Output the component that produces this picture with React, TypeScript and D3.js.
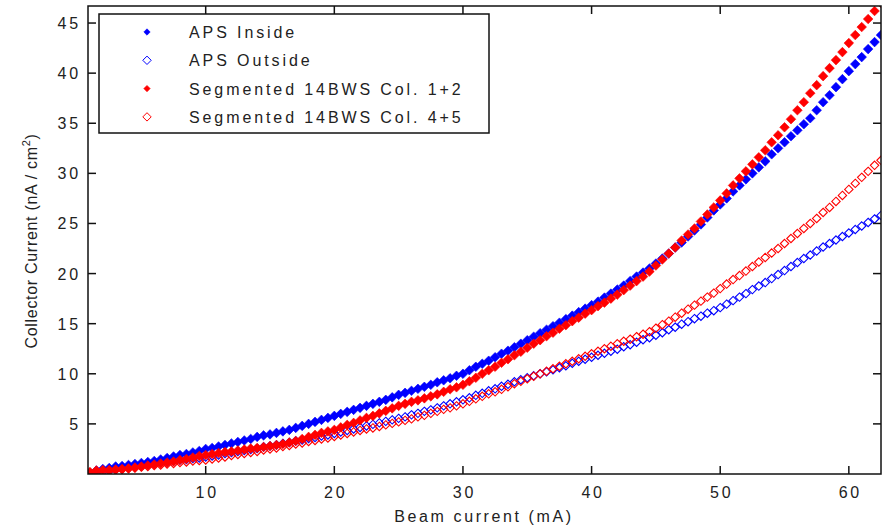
import React from "react";
import * as d3 from "d3";

const BEAM = [
  1.0, 1.5, 2.0, 2.5, 3.0, 3.5, 4.0, 4.5, 5.0, 5.5, 6.0, 6.5, 7.0, 7.5, 8.0, 8.5, 9.0, 9.5, 10.0, 10.5,
  11.0, 11.5, 12.0, 12.5, 13.0, 13.5, 14.0, 14.5, 15.0, 15.5, 16.0, 16.5, 17.0, 17.5, 18.0, 18.5, 19.0, 19.5, 20.0, 20.5,
  21.0, 21.5, 22.0, 22.5, 23.0, 23.5, 24.0, 24.5, 25.0, 25.5, 26.0, 26.5, 27.0, 27.5, 28.0, 28.5, 29.0, 29.5, 30.0, 30.5,
  31.0, 31.5, 32.0, 32.5, 33.0, 33.5, 34.0, 34.5, 35.0, 35.5, 36.0, 36.5, 37.0, 37.5, 38.0, 38.5, 39.0, 39.5, 40.0, 40.5,
  41.0, 41.5, 42.0, 42.5, 43.0, 43.5, 44.0, 44.5, 45.0, 45.5, 46.0, 46.5, 47.0, 47.5, 48.0, 48.5, 49.0, 49.5, 50.0, 50.5,
  51.0, 51.5, 52.0, 52.5, 53.0, 53.5, 54.0, 54.5, 55.0, 55.5, 56.0, 56.5, 57.0, 57.5, 58.0, 58.5, 59.0, 59.5, 60.0, 60.5,
  61.0, 61.5, 62.0, 62.5,
];

const APS_INSIDE = [
  0.1, 0.35, 0.5, 0.6, 0.75, 0.8, 0.9, 1.0, 1.1, 1.2, 1.3, 1.45, 1.6, 1.75, 1.9, 2.0, 2.15, 2.3, 2.5, 2.6,
  2.75, 2.9, 3.05, 3.2, 3.35, 3.5, 3.7, 3.85, 3.95, 4.1, 4.25, 4.4, 4.6, 4.8, 5.0, 5.2, 5.4, 5.6, 5.8, 6.0,
  6.2, 6.4, 6.6, 6.8, 7.0, 7.2, 7.4, 7.65, 7.9, 8.1, 8.3, 8.5, 8.7, 8.9, 9.15, 9.35, 9.55, 9.8, 10.0, 10.35,
  10.7, 11.0, 11.3, 11.65, 12.0, 12.3, 12.65, 13.0, 13.35, 13.7, 14.05, 14.4, 14.75, 15.1, 15.45, 15.8, 16.15, 16.5, 16.85, 17.2,
  17.6, 18.0, 18.4, 18.8, 19.25, 19.7, 20.1, 20.5, 21.0, 21.5, 22.0, 22.6, 23.1, 23.7, 24.3, 24.9, 25.6, 26.3, 26.9, 27.5,
  28.2, 28.8, 29.4, 30.0, 30.6, 31.2, 31.9, 32.5, 33.1, 33.7, 34.3, 34.9, 35.5, 36.3, 37.1, 37.8, 38.6, 39.4, 40.2, 40.9,
  41.6, 42.4, 43.1, 43.8,
];

const APS_OUTSIDE = [
  0.0, 0.1, 0.2, 0.3, 0.45, 0.55, 0.65, 0.8, 0.9, 1.0, 1.05, 1.15, 1.2, 1.3, 1.4, 1.45, 1.55, 1.6, 1.7, 1.8,
  1.9, 2.05, 2.15, 2.25, 2.35, 2.45, 2.55, 2.7, 2.8, 2.9, 3.05, 3.15, 3.3, 3.4, 3.55, 3.65, 3.8, 3.9, 4.05, 4.2,
  4.35, 4.5, 4.65, 4.8, 4.95, 5.1, 5.25, 5.4, 5.55, 5.7, 5.9, 6.05, 6.25, 6.4, 6.6, 6.8, 7.0, 7.2, 7.4, 7.6,
  7.85, 8.05, 8.3, 8.5, 8.75, 8.95, 9.2, 9.4, 9.6, 9.8, 10.0, 10.2, 10.4, 10.6, 10.8, 11.05, 11.25, 11.45, 11.65, 11.85,
  12.05, 12.25, 12.45, 12.7, 12.9, 13.15, 13.4, 13.6, 13.85, 14.1, 14.4, 14.65, 14.95, 15.2, 15.5, 15.75, 16.05, 16.3, 16.6, 16.95,
  17.3, 17.65, 18.0, 18.4, 18.75, 19.1, 19.5, 19.9, 20.3, 20.7, 21.1, 21.5, 21.85, 22.25, 22.65, 23.0, 23.35, 23.7, 24.05, 24.4,
  24.75, 25.1, 25.45, 25.8,
];

const SEG_COL12 = [
  0.2, 0.35, 0.4, 0.4, 0.45, 0.5, 0.55, 0.65, 0.75, 0.85, 0.95, 1.05, 1.15, 1.25, 1.4, 1.5, 1.65, 1.8, 1.9, 2.0,
  2.1, 2.2, 2.25, 2.35, 2.45, 2.55, 2.6, 2.7, 2.8, 2.9, 3.0, 3.15, 3.3, 3.5, 3.7, 3.9, 4.1, 4.25, 4.4, 4.65,
  4.9, 5.1, 5.35, 5.6, 5.8, 6.05, 6.3, 6.55, 6.8, 7.0, 7.2, 7.35, 7.55, 7.75, 7.95, 8.2, 8.45, 8.65, 8.9, 9.25,
  9.6, 10.0, 10.35, 10.7, 11.1, 11.45, 11.85, 12.2, 12.6, 13.0, 13.35, 13.75, 14.1, 14.5, 14.85, 15.25, 15.6, 16.0, 16.35, 16.75,
  17.1, 17.5, 17.9, 18.35, 18.8, 19.25, 19.7, 20.2, 20.8, 21.4, 22.0, 22.6, 23.3, 23.9, 24.5, 25.2, 25.9, 26.6, 27.3, 28.0,
  28.8, 29.5, 30.2, 30.9, 31.6, 32.3, 33.1, 33.8, 34.6, 35.4, 36.3, 37.1, 38.0, 38.8, 39.7, 40.5, 41.3, 42.1, 43.0, 43.8,
  44.6, 45.4, 46.2, 47.0,
];

const SEG_COL45 = [
  0.1, 0.2, 0.25, 0.3, 0.4, 0.45, 0.55, 0.6, 0.7, 0.75, 0.85, 0.9, 1.0, 1.05, 1.15, 1.2, 1.3, 1.35, 1.4, 1.5,
  1.6, 1.7, 1.85, 1.95, 2.05, 2.15, 2.25, 2.4, 2.5, 2.6, 2.75, 2.85, 3.0, 3.1, 3.25, 3.35, 3.5, 3.6, 3.75, 3.9,
  4.05, 4.2, 4.35, 4.5, 4.6, 4.75, 4.9, 5.05, 5.2, 5.35, 5.5, 5.7, 5.85, 6.05, 6.25, 6.45, 6.6, 6.8, 7.0, 7.25,
  7.5, 7.75, 8.0, 8.2, 8.45, 8.7, 9.0, 9.25, 9.5, 9.75, 10.0, 10.25, 10.5, 10.75, 11.0, 11.25, 11.5, 11.75, 12.0, 12.25,
  12.5, 12.75, 13.0, 13.25, 13.45, 13.7, 13.95, 14.2, 14.55, 14.9, 15.25, 15.65, 16.05, 16.45, 16.85, 17.25, 17.65, 18.05, 18.5, 18.95,
  19.4, 19.8, 20.25, 20.7, 21.15, 21.6, 22.05, 22.5, 23.0, 23.5, 24.0, 24.5, 25.0, 25.5, 26.1, 26.6, 27.2, 27.8, 28.4, 29.0,
  29.6, 30.2, 30.8, 31.3,
];

const SERIES_NAMES = ["APS Inside", "APS Outside", "Segmented 14BWS Col. 1+2", "Segmented 14BWS Col. 4+5"];
const SERIES_VALUES = [APS_INSIDE, APS_OUTSIDE, SEG_COL12, SEG_COL45];
const SERIES_COLORS = ["#0000ff", "#0000ff", "#ff0000", "#ff0000"];
const SERIES_FILLED = [true, false, true, false];

const X_TICKS = [10, 20, 30, 40, 50, 60];
const Y_TICKS = [5, 10, 15, 20, 25, 30, 35, 40, 45];

const W = 882;
const H = 527;
const M = { left: 88, right: 881, top: 6, bottom: 474 };

const diamond = (r: number) => `M0,${-r}L${r},0L0,${r}L${-r},0Z`;

export default function App() {
  const x = d3.scaleLinear().domain([0.85, 62.5]).range([M.left, M.right]);
  const y = d3.scaleLinear().domain([0, 46.7]).range([M.bottom, M.top]);
  const font = "'Liberation Sans', Arial, Helvetica, sans-serif";
  const tickLen = 8;

  return (
    <svg width={W} height={H} style={{ position: "absolute", left: 0, top: 0, background: "#fff" }}>
      <defs>
        <clipPath id="plotclip">
          <rect x={M.left} y={M.top} width={M.right - M.left} height={M.bottom - M.top} />
        </clipPath>
      </defs>
      <rect x={0} y={0} width={W} height={H} fill="#fff" />

      <g clipPath="url(#plotclip)">
        {SERIES_VALUES.map((vals, si) => (
          <g key={si}>
            {vals.map((v, i) => (
              <path
                key={i}
                d={diamond(SERIES_FILLED[si] ? 4.8 : 4.2)}
                transform={`translate(${x(BEAM[i])},${y(v)})`}
                fill={SERIES_FILLED[si] ? SERIES_COLORS[si] : "none"}
                stroke={SERIES_COLORS[si]}
                strokeWidth={SERIES_FILLED[si] ? 0.6 : 1.1}
              />
            ))}
          </g>
        ))}
      </g>

      {/* axes box */}
      <rect x={M.left} y={M.top} width={M.right - M.left} height={M.bottom - M.top} fill="none" stroke="#111" strokeWidth={1.5} />

      {X_TICKS.map((t) => (
        <g key={"x" + t}>
          <line x1={x(t)} x2={x(t)} y1={M.bottom} y2={M.bottom - tickLen} stroke="#111" strokeWidth={1.5} />
          <line x1={x(t)} x2={x(t)} y1={M.top} y2={M.top + tickLen} stroke="#111" strokeWidth={1.5} />
          <text x={x(t) + 1.5} y={498} textAnchor="middle" fontFamily={font} fontSize={16} letterSpacing={2.8} fill="#222">
            {t}
          </text>
        </g>
      ))}
      {Y_TICKS.map((t) => (
        <g key={"y" + t}>
          <line x1={M.left} x2={M.left + tickLen} y1={y(t)} y2={y(t)} stroke="#111" strokeWidth={1.5} />
          <line x1={M.right} x2={M.right - tickLen} y1={y(t)} y2={y(t)} stroke="#111" strokeWidth={1.5} />
          <text x={81} y={y(t) + 6} textAnchor="end" fontFamily={font} fontSize={16} letterSpacing={2.8} fill="#222">
            {t}
          </text>
        </g>
      ))}

      <text x={484} y={522} textAnchor="middle" fontFamily={font} fontSize={16} letterSpacing={2.6} fill="#222">
        Beam current (mA)
      </text>
      <text
        transform={`translate(37,${241}) rotate(-90)`}
        textAnchor="middle"
        fontFamily={font}
        fontSize={16}
        letterSpacing={0.7}
        fill="#222"
      >
        Collector Current (nA / cm
        <tspan dy={-7} fontSize={11}>2</tspan>
        <tspan dy={7}>)</tspan>
      </text>

      {/* legend */}
      <rect x={99} y={14} width={390} height={119} fill="#fff" stroke="#111" strokeWidth={1.5} />
      {SERIES_NAMES.map((name, i) => {
        const ly = 32 + i * 28.3;
        return (
          <g key={name}>
            <path
              d={diamond(SERIES_FILLED[i] ? 3.2 : 4.2)}
              transform={`translate(147,${ly})`}
              fill={SERIES_FILLED[i] ? SERIES_COLORS[i] : "none"}
              stroke={SERIES_COLORS[i]}
              strokeWidth={SERIES_FILLED[i] ? 0.6 : 1}
            />
            <text x={189} y={ly + 6} fontFamily={font} fontSize={16} letterSpacing={2.9} fill="#222">
              {name}
            </text>
          </g>
        );
      })}
    </svg>
  );
}
